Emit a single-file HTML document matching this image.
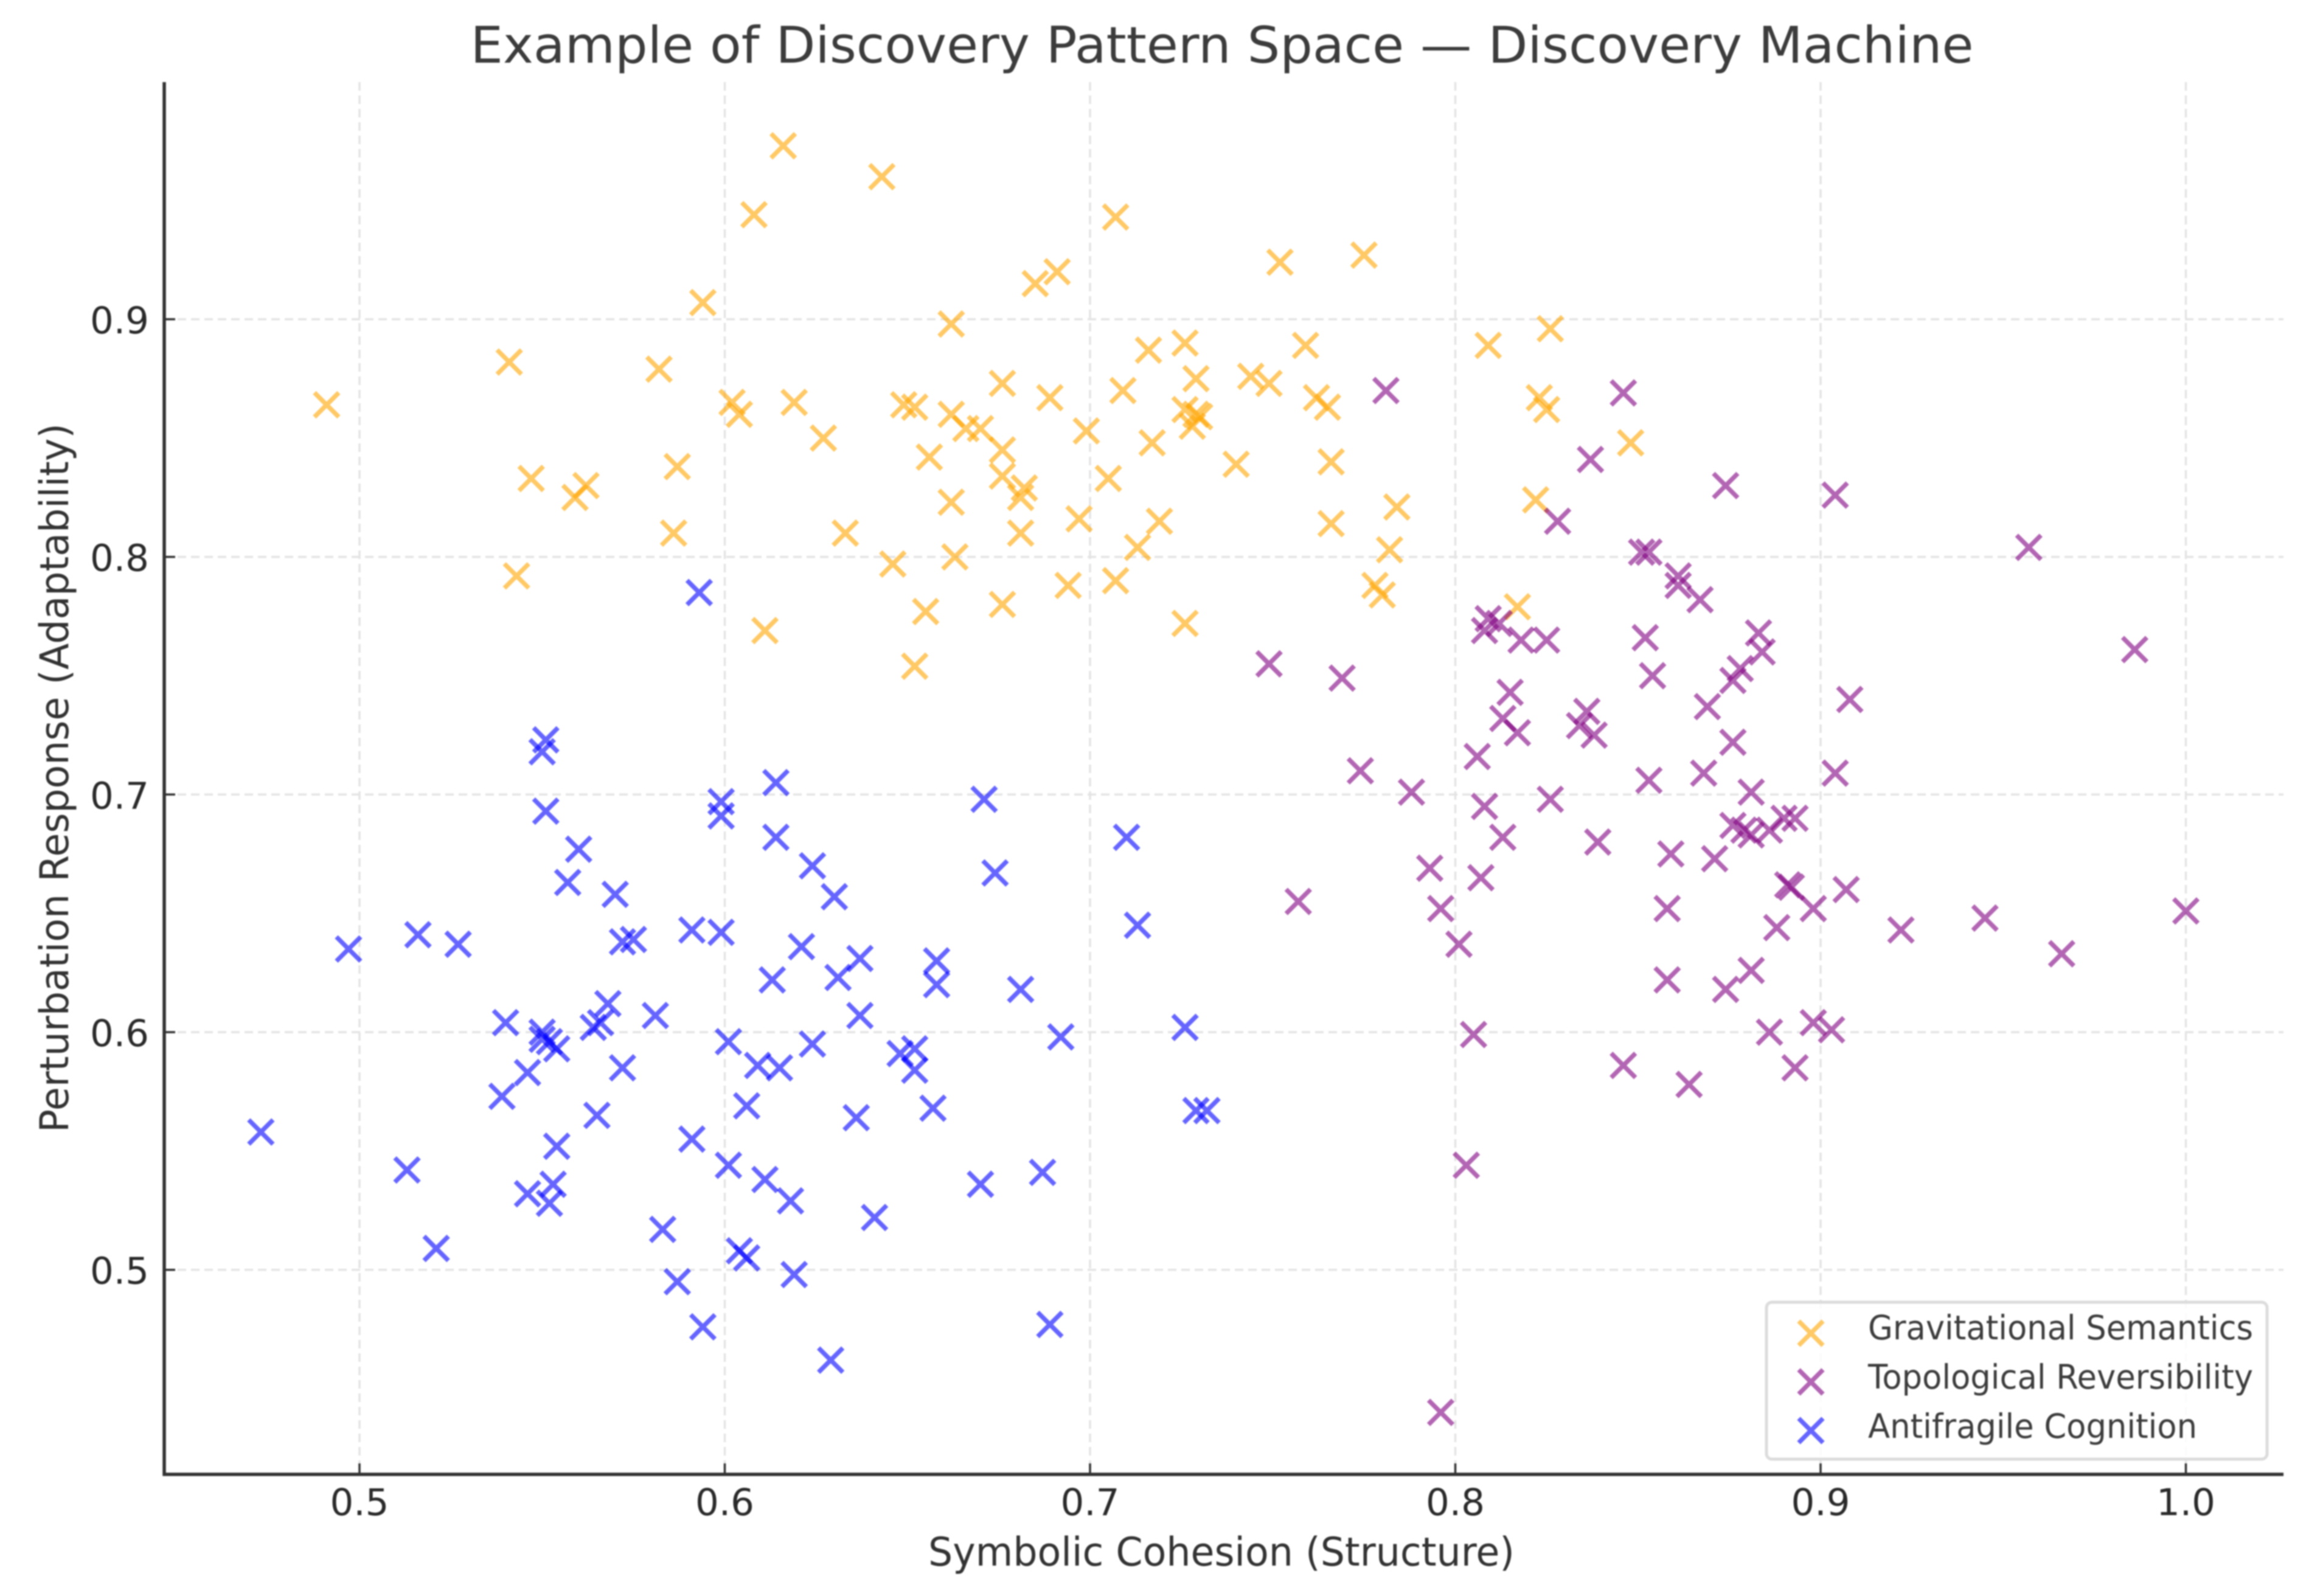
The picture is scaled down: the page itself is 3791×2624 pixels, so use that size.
<!DOCTYPE html>
<html lang="en">
<head>
<meta charset="utf-8">
<title>Example of Discovery Pattern Space — Discovery Machine</title>
<style>
html,body{margin:0;padding:0;background:#fff;width:3791px;height:2624px;overflow:hidden}
svg{display:block;filter:blur(1.1px)}
text{font-family:"DejaVu Sans","Liberation Sans",sans-serif}
</style>
</head>
<body>
<svg id="chart" xmlns="http://www.w3.org/2000/svg" width="3791" height="2624" viewBox="0 0 3791 2624">
  <rect x="0" y="0" width="3791" height="2624" fill="#ffffff"/>
  <g id="grid"></g>
  <g id="series"></g>
  <g id="axes"></g>
  <text x="2009" y="103" text-anchor="middle" font-size="83" fill="#3c3c3c" textLength="2471" lengthAdjust="spacingAndGlyphs">Example of Discovery Pattern Space — Discovery Machine</text>
  <text x="2008" y="2574" text-anchor="middle" font-size="65" fill="#333333" textLength="964" lengthAdjust="spacingAndGlyphs">Symbolic Cohesion (Structure)</text>
  <text transform="translate(112,1279) rotate(-90)" text-anchor="middle" font-size="65" fill="#333333" textLength="1166" lengthAdjust="spacingAndGlyphs">Perturbation Response (Adaptability)</text>
  <g id="legend">
    <rect x="2904" y="2141" width="823" height="258" rx="9" ry="9" fill="#ffffff" fill-opacity="0.85" stroke="#dcdcdc" stroke-width="5"/>
    <g>
      <path d="M2957 2172L2997 2212M2957 2212L2997 2172" stroke="#ffa500" stroke-opacity="0.6" stroke-width="7.5" fill="none"/>
      <text x="3071" y="2202" font-size="55" fill="#3c3c3c" textLength="633" lengthAdjust="spacingAndGlyphs">Gravitational Semantics</text>
    </g>
    <g>
      <path d="M2957 2252L2997 2292M2957 2292L2997 2252" stroke="#800080" stroke-opacity="0.6" stroke-width="7.5" fill="none"/>
      <text x="3071" y="2283" font-size="55" fill="#3c3c3c" textLength="633" lengthAdjust="spacingAndGlyphs">Topological Reversibility</text>
    </g>
    <g>
      <path d="M2957 2332L2997 2372M2957 2372L2997 2332" stroke="#0000ff" stroke-opacity="0.6" stroke-width="7.5" fill="none"/>
      <text x="3071" y="2364" font-size="55" fill="#3c3c3c" textLength="541" lengthAdjust="spacingAndGlyphs">Antifragile Cognition</text>
    </g>
  </g>
</svg>
<script>
const xTickValues = [0.5, 0.6, 0.7, 0.8, 0.9, 1.0];
const yTickValues = [0.5, 0.6, 0.7, 0.8, 0.9];
const xTickLabels = ["0.5", "0.6", "0.7", "0.8", "0.9", "1.0"];
const yTickLabels = ["0.5", "0.6", "0.7", "0.8", "0.9"];

const gravitationalX = [0.491,0.541,0.543,0.547,0.559,0.562,0.582,0.587,0.586,0.594,0.608,0.616,0.602,0.604,0.611,0.619,0.627,0.633,0.643,0.646,0.649,0.652,0.652,0.655,0.656,0.662,0.662,0.662,0.663,0.666,0.670,0.676,0.676,0.676,0.676,0.682,0.681,0.681,0.685,0.691,0.689,0.697,0.694,0.699,0.707,0.705,0.707,0.709,0.713,0.716,0.717,0.719,0.726,0.726,0.726,0.729,0.728,0.729,0.730,0.740,0.744,0.749,0.752,0.759,0.762,0.765,0.766,0.766,0.775,0.778,0.780,0.782,0.784,0.809,0.817,0.822,0.823,0.825,0.826,0.848];
const gravitationalY = [0.864,0.882,0.792,0.833,0.825,0.830,0.879,0.838,0.810,0.907,0.944,0.973,0.865,0.860,0.769,0.865,0.850,0.810,0.960,0.797,0.864,0.863,0.754,0.777,0.842,0.898,0.860,0.823,0.800,0.854,0.854,0.873,0.845,0.834,0.780,0.829,0.825,0.810,0.915,0.920,0.867,0.816,0.788,0.853,0.943,0.833,0.790,0.870,0.804,0.887,0.848,0.815,0.890,0.862,0.772,0.875,0.855,0.860,0.859,0.839,0.876,0.873,0.924,0.889,0.867,0.863,0.840,0.814,0.927,0.788,0.784,0.803,0.821,0.889,0.779,0.824,0.867,0.862,0.896,0.848];

const topologicalX = [0.749,0.769,0.781,0.774,0.788,0.793,0.796,0.801,0.757,0.805,0.803,0.796,0.806,0.808,0.807,0.813,0.808,0.809,0.812,0.813,0.815,0.817,0.818,0.825,0.826,0.828,0.834,0.836,0.838,0.837,0.839,0.846,0.846,0.851,0.853,0.852,0.854,0.853,0.858,0.858,0.859,0.861,0.861,0.864,0.867,0.868,0.869,0.871,0.874,0.874,0.876,0.876,0.878,0.876,0.879,0.881,0.881,0.883,0.884,0.881,0.886,0.886,0.888,0.890,0.893,0.891,0.892,0.893,0.898,0.898,0.903,0.904,0.904,0.907,0.908,0.922,0.945,0.957,0.966,0.986,1.000];
const topologicalY = [0.755,0.749,0.870,0.710,0.701,0.669,0.652,0.637,0.655,0.599,0.544,0.440,0.716,0.695,0.665,0.682,0.769,0.774,0.772,0.732,0.743,0.726,0.765,0.765,0.698,0.815,0.729,0.735,0.725,0.841,0.680,0.869,0.586,0.802,0.802,0.766,0.750,0.706,0.652,0.622,0.675,0.792,0.788,0.578,0.782,0.709,0.737,0.673,0.830,0.618,0.722,0.748,0.753,0.687,0.685,0.701,0.626,0.768,0.760,0.683,0.685,0.600,0.644,0.690,0.690,0.662,0.661,0.585,0.652,0.604,0.601,0.826,0.709,0.660,0.740,0.643,0.648,0.804,0.633,0.761,0.651];

const antifragileX = [0.473,0.497,0.513,0.516,0.521,0.527,0.540,0.539,0.546,0.546,0.550,0.550,0.552,0.552,0.553,0.554,0.554,0.551,0.550,0.551,0.557,0.560,0.564,0.566,0.565,0.568,0.570,0.572,0.572,0.575,0.581,0.583,0.587,0.594,0.593,0.591,0.591,0.599,0.599,0.599,0.601,0.601,0.604,0.606,0.606,0.609,0.611,0.615,0.613,0.614,0.614,0.618,0.619,0.621,0.624,0.624,0.630,0.629,0.631,0.636,0.637,0.637,0.641,0.648,0.652,0.652,0.657,0.658,0.658,0.670,0.671,0.674,0.681,0.687,0.689,0.692,0.710,0.713,0.726,0.729,0.732];
const antifragileY = [0.558,0.635,0.542,0.641,0.509,0.637,0.604,0.573,0.532,0.583,0.600,0.597,0.596,0.528,0.536,0.552,0.593,0.723,0.718,0.693,0.663,0.677,0.602,0.604,0.565,0.612,0.658,0.585,0.638,0.639,0.607,0.517,0.495,0.476,0.785,0.643,0.555,0.697,0.691,0.642,0.544,0.596,0.508,0.505,0.569,0.586,0.538,0.585,0.622,0.682,0.705,0.529,0.498,0.636,0.595,0.670,0.657,0.462,0.623,0.564,0.631,0.607,0.522,0.591,0.593,0.584,0.568,0.630,0.620,0.536,0.698,0.667,0.618,0.541,0.477,0.598,0.682,0.645,0.602,0.567,0.567];

const SVG_NS = "http://www.w3.org/2000/svg";
const plotLeft = 270, plotBottom = 2424, plotTop = 135, plotRight = 3754;

function scaleX(v) { return 591 + (v - 0.5) * 6005; }
function scaleY(v) { return 2087.7 - (v - 0.5) * 3907; }

function make(tag, attrs, parent) {
  const el = document.createElementNS(SVG_NS, tag);
  for (const k in attrs) el.setAttribute(k, attrs[k]);
  parent.appendChild(el);
  return el;
}

const gridLayer = document.getElementById("grid");
const axesLayer = document.getElementById("axes");
const seriesLayer = document.getElementById("series");

xTickValues.forEach(function (v, i) {
  const x = scaleX(v);
  const grid = make("line", {x1: x, x2: x, y1: plotTop, y2: plotBottom, stroke: "#e4e4e4", "stroke-width": 3.5, "stroke-dasharray": "14 8"}, gridLayer);
  
  
  const tick = make("line", {x1: x, x2: x, y1: plotBottom, y2: plotBottom - 18, stroke: "#333333", "stroke-width": 3.5}, axesLayer);
  
  
  const label = make("text", {x: x, y: 2491, "text-anchor": "middle", "font-size": 61, fill: "#2a2a2a"}, axesLayer);
  
  
  label.textContent = xTickLabels[i];
});

yTickValues.forEach(function (v, i) {
  const y = scaleY(v);
  const grid = make("line", {x1: plotLeft, x2: plotRight, y1: y, y2: y, stroke: "#e4e4e4", "stroke-width": 3.5, "stroke-dasharray": "14 8"}, gridLayer);
  
  
  const tick = make("line", {x1: plotLeft, x2: plotLeft + 18, y1: y, y2: y, stroke: "#333333", "stroke-width": 3.5}, axesLayer);
  
  
  const label = make("text", {x: 245, y: y + 23, "text-anchor": "end", "font-size": 61, fill: "#2a2a2a"}, axesLayer);
  
  
  label.textContent = yTickLabels[i];
});

const leftSpine = make("line", {x1: plotLeft, x2: plotLeft, y1: plotTop, y2: plotBottom + 2.5, stroke: "#333333", "stroke-width": 5.5}, axesLayer);


const bottomSpine = make("line", {x1: plotLeft - 2.5, x2: plotRight, y1: plotBottom, y2: plotBottom, stroke: "#333333", "stroke-width": 5.5}, axesLayer);



function drawSeries(xs, ys, color, groupName) {
  const group = make("g", {fill: "none", stroke: color, "stroke-opacity": 0.6, "stroke-width": 7.5}, seriesLayer);
  
  
  const r = 20;
  xs.forEach(function (xv, i) {
    const cx = scaleX(xv), cy = scaleY(ys[i]);
    const d = "M" + (cx - r) + " " + (cy - r) + "L" + (cx + r) + " " + (cy + r) +
              "M" + (cx - r) + " " + (cy + r) + "L" + (cx + r) + " " + (cy - r);
    const mark = make("path", {d: d}, group);
    
    
  });
}

drawSeries(gravitationalX, gravitationalY, "#ffa500", "series-gravitational-semantics");
drawSeries(topologicalX, topologicalY, "#800080", "series-topological-reversibility");
drawSeries(antifragileX, antifragileY, "#0000ff", "series-antifragile-cognition");
</script>
</body>
</html>
